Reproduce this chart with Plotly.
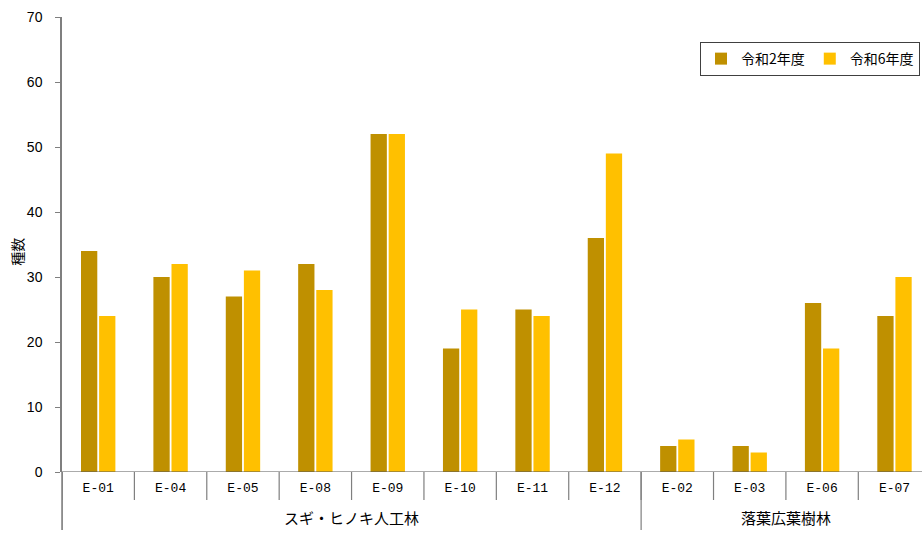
import plotly.graph_objects as go

# Survey plots, grouped by forest type
plots = ["E-01", "E-04", "E-05", "E-08", "E-09", "E-10", "E-11", "E-12",
         "E-02", "E-03", "E-06", "E-07"]
groups = ["スギ・ヒノキ人工林", "落葉広葉樹林"]
group_sizes = [8, 4]

species_r2 = [34, 30, 27, 32, 52, 19, 25, 36, 4, 4, 26, 24]
species_r6 = [24, 32, 31, 28, 52, 25, 24, 49, 5, 3, 19, 30]
series_names = ["令和2年度", "令和6年度"]

y_ticks = [0, 10, 20, 30, 40, 50, 60, 70]

NUM_FONT = "Liberation Sans Narrow, Arial Narrow, sans-serif"
MONO_FONT = "Liberation Mono, DejaVu Sans Mono, monospace"
JP_FONT = "Noto Sans CJK JP, sans-serif"
AXIS = "#7f7f7f"

x = list(range(len(plots)))

fig = go.Figure()
fig.add_bar(x=x, y=species_r2, name=series_names[0], marker_color="#BF9000",
            marker_line_width=0)
fig.add_bar(x=x, y=species_r6, name=series_names[1], marker_color="#FFC000",
            marker_line_width=0)

# plot-area geometry in pixels, used to express drop lines in paper units
H_PLOT = 534 - 17 - 62
W_PLOT = 922 - 62
tick_drop = -28 / H_PLOT
group_drop = -58 / H_PLOT

shapes = []
# separators between plots
for i in range(len(plots) + 1):
    shapes.append(dict(type="line", xref="x", yref="paper",
                       x0=i - 0.5, x1=i - 0.5, y0=0, y1=tick_drop,
                       line=dict(color=AXIS, width=1.2)))
# long separators between forest-type groups
pos = 0
boundaries = [0]
for n in group_sizes:
    pos += n
    boundaries.append(pos)
for b in boundaries[:-1]:
    shapes.append(dict(type="line", xref="x", yref="paper",
                       x0=b - 0.5, x1=b - 0.5, y0=0, y1=group_drop,
                       line=dict(color=AXIS, width=1.2)))
# baseline
shapes.append(dict(type="line", xref="paper", yref="y", x0=0, x1=1, y0=0, y1=0,
                   line=dict(color="#595959", width=1.2)))

annotations = []
for g, a, b in zip(groups, boundaries[:-1], boundaries[1:]):
    annotations.append(dict(x=(a + b - 1) / 2, y=(-45 / H_PLOT), xref="x", yref="paper",
                            text=g, showarrow=False, yanchor="middle", xanchor="center",
                            font=dict(family=JP_FONT, size=15, color="#000")))
annotations.append(dict(x=-45 / W_PLOT, y=0.484, xref="paper", yref="paper",
                        text="種数", textangle=-90, showarrow=False,
                        xanchor="center", yanchor="middle",
                        font=dict(family=JP_FONT, size=14, color="#000")))

fig.update_layout(
    width=922, height=534,
    margin=dict(l=62, r=0, t=17, b=62),
    paper_bgcolor="white", plot_bgcolor="white",
    barmode="group", bargap=0.5, bargroupgap=0.1,
    shapes=shapes, annotations=annotations,
    legend=dict(orientation="h", x=(700 - 62) / W_PLOT, y=0.945,
                xanchor="left", yanchor="top",
                bordercolor="#404040", borderwidth=1, bgcolor="white",
                font=dict(family=JP_FONT, size=14, color="#000"),
                itemwidth=30, tracegroupgap=0),
    xaxis=dict(range=[-0.5, 11.38], tickmode="array", tickvals=x,
               ticktext=plots, showline=False, showgrid=False, zeroline=False,
               ticks="", ticklabelstandoff=6,
               tickfont=dict(family=MONO_FONT, size=13, color="#000")),
    yaxis=dict(range=[0, 70], tickvals=y_ticks, showgrid=False, zeroline=False,
               showline=True, linecolor=AXIS, linewidth=1.5,
               ticks="outside", ticklen=5, tickcolor=AXIS,
               ticklabelstandoff=10,
               tickfont=dict(family=NUM_FONT, size=14, color="#000")),
)

# extend the value axis below the baseline
fig.add_shape(type="line", xref="paper", yref="paper", x0=0, x1=0, y0=0,
              y1=group_drop, line=dict(color=AXIS, width=1.5))

fig.write_html("out.html")
